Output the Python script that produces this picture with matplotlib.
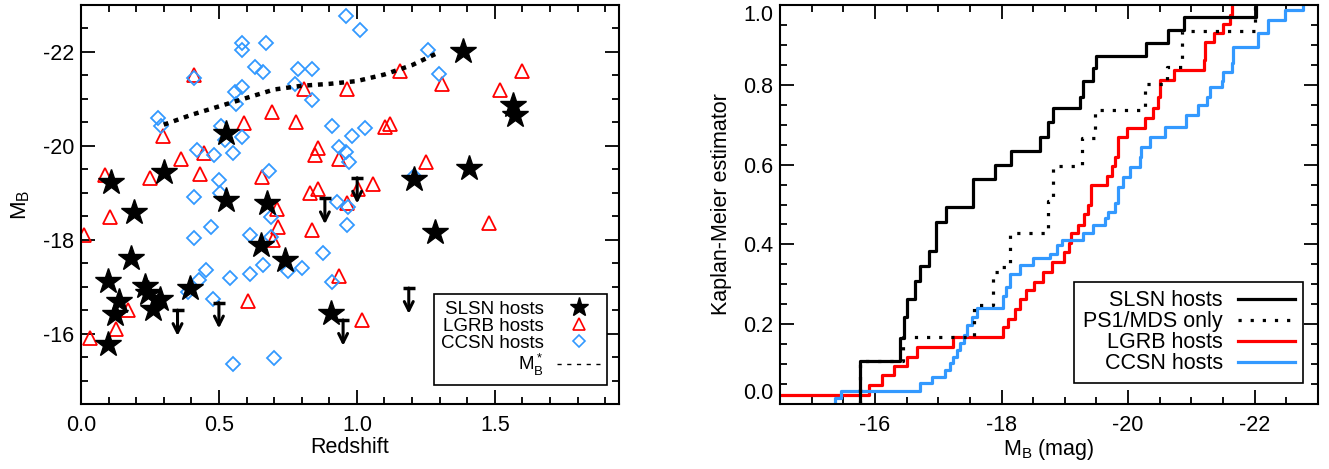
import matplotlib
matplotlib.use("Agg")
import matplotlib.pyplot as plt
from matplotlib.lines import Line2D
from matplotlib.ticker import MultipleLocator, FormatStrFormatter

plt.rcParams['font.family'] = ['Liberation Sans', 'DejaVu Sans']
plt.rcParams['mathtext.fontset'] = 'custom'
plt.rcParams['mathtext.rm'] = 'Liberation Sans'
plt.rcParams['axes.unicode_minus'] = False

# --- left panel: host absolute magnitude vs redshift ---
slsn_z = [0.109, 0.193, 0.302, 0.524, 0.524, 0.673, 1.385, 1.566, 1.572, 1.406, 1.207, 1.283,
          0.099, 0.181, 0.139, 0.123, 0.099, 0.232, 0.244, 0.286, 0.260, 0.395, 0.652, 0.739, 0.905]
slsn_mb = [-19.23, -18.60, -19.45, -20.28, -18.85, -18.78, -22.03, -20.86, -20.65, -19.52, -19.29, -18.17,
           -17.13, -17.60, -16.69, -16.41, -15.77, -17.01, -16.87, -16.73, -16.53, -16.97, -17.89, -17.57, -16.44]

lgrb_z = [0.012, 0.033, 0.087, 0.105, 0.127, 0.171, 0.249, 0.296, 0.362, 0.411, 0.430, 0.447, 0.592, 0.606,
          0.655, 0.691, 0.697, 0.711, 0.715, 0.779, 0.807, 0.829, 0.836, 0.848, 0.859, 0.859, 0.936, 0.936,
          0.963, 0.965, 1.005, 1.019, 1.059, 1.101, 1.120, 1.158, 1.252, 1.310, 1.479, 1.518, 1.600]
lgrb_mb = [-18.10, -15.91, -19.38, -18.49, -16.10, -16.50, -19.31, -20.22, -19.73, -21.50, -19.41, -19.85, -20.49, -16.69,
           -19.34, -20.72, -18.00, -18.65, -18.27, -20.51, -21.22, -19.00, -18.21, -19.80, -19.96, -19.07, -19.73, -17.22,
           -18.78, -21.22, -19.09, -16.30, -19.18, -20.40, -20.46, -21.59, -19.65, -21.32, -18.35, -21.19, -21.60]

ccsn_z = [0.278, 0.290, 0.389, 0.411, 0.411, 0.411, 0.419, 0.429, 0.455, 0.470, 0.479, 0.483, 0.500, 0.503,
          0.506, 0.522, 0.540, 0.552, 0.552, 0.558, 0.561, 0.582, 0.582, 0.582, 0.584, 0.611, 0.612, 0.630,
          0.661, 0.661, 0.669, 0.682, 0.690, 0.690, 0.699, 0.751, 0.774, 0.787, 0.800, 0.839, 0.839, 0.878,
          0.908, 0.911, 0.929, 0.936, 0.960, 0.962, 0.963, 0.969, 0.972, 0.981, 1.011, 1.029, 1.207, 1.258, 1.298]
ccsn_mb = [-20.60, -20.42, -16.88, -21.45, -18.90, -18.03, -19.91, -17.15, -17.36, -18.27, -16.74, -19.80, -19.27, -18.99,
           -20.42, -20.12, -17.19, -19.84, -15.36, -21.14, -20.90, -22.20, -22.04, -21.26, -20.19, -18.10, -17.28, -21.67,
           -21.57, -17.47, -22.20, -19.47, -18.48, -18.06, -15.47, -17.33, -21.32, -21.64, -17.40, -21.64, -20.97, -17.72,
           -17.09, -20.42, -18.81, -19.98, -22.77, -19.87, -18.31, -18.70, -19.66, -20.22, -22.47, -20.37, -19.35, -22.04, -21.52]

# SLSN hosts with upper limits
ul_z = [0.350, 0.500, 0.884, 0.950, 1.001, 1.188]
ul_mb = [-16.50, -16.66, -18.88, -16.29, -19.32, -16.97]

# characteristic magnitude M*_B
mstar_z = [0.30, 0.40, 0.50, 0.60, 0.70, 0.80, 0.90, 1.00, 1.10, 1.20, 1.30]
mstar_mb = [-20.45, -20.66, -20.84, -21.02, -21.20, -21.28, -21.32, -21.38, -21.52, -21.72, -22.00]

# --- right panel: Kaplan-Meier curves (step after each magnitude) ---
km_slsn_mag = [-15.77, -15.77, -16.40, -16.46, -16.50, -16.64, -16.72, -16.85, -16.96, -17.13, -17.55, -17.89,
               -18.15, -18.61, -18.74, -18.82, -19.24, -19.28, -19.45, -19.49, -20.28, -20.63, -20.88, -22.02]
km_slsn_frac = [0.0, 0.108, 0.165, 0.219, 0.263, 0.308, 0.346, 0.384, 0.457, 0.493, 0.564, 0.600,
                0.634, 0.670, 0.707, 0.741, 0.770, 0.810, 0.841, 0.872, 0.904, 0.937, 0.970, 1.0]

km_ps1_mag = [-15.77, -15.77, -16.45, -17.57, -17.87, -18.00, -18.13, -18.74, -18.82, -19.27, -19.47,
              -20.27, -20.61, -20.85, -22.01]
km_ps1_frac = [0.0, 0.108, 0.169, 0.248, 0.330, 0.344, 0.428, 0.510, 0.597, 0.667, 0.737,
               0.802, 0.845, 0.935, 1.0]

km_lgrb_mag = [-14.0, -15.91, -16.11, -16.30, -16.50, -16.67, -17.24, -18.03, -18.10, -18.22, -18.30, -18.38,
               -18.51, -18.66, -18.79, -18.98, -19.06, -19.10, -19.21, -19.30, -19.37, -19.42, -19.66, -19.75,
               -19.79, -19.84, -19.98, -20.27, -20.40, -20.48, -20.51, -20.72, -21.20, -21.22, -21.35, -21.50,
               -21.61, -21.64]
km_lgrb_frac = [0.022, 0.047, 0.073, 0.095, 0.118, 0.144, 0.169, 0.194, 0.214, 0.238, 0.262, 0.286,
                0.307, 0.332, 0.357, 0.380, 0.404, 0.428, 0.449, 0.475, 0.500, 0.549, 0.572, 0.596,
                0.620, 0.670, 0.693, 0.716, 0.741, 0.770, 0.812, 0.837, 0.862, 0.908, 0.931, 0.952,
                0.975, 1.0]

km_ccsn_mag = [-15.37, -15.37, -15.47, -16.71, -16.90, -17.11, -17.19, -17.24, -17.30, -17.35, -17.40, -17.45,
               -17.53, -17.61, -18.02, -18.07, -18.13, -18.29, -18.50, -18.76, -18.87, -18.95, -19.29, -19.45,
               -19.63, -19.69, -19.79, -19.84, -19.92, -20.03, -20.19, -20.21, -20.34, -20.58, -20.92, -21.11,
               -21.24, -21.29, -21.48, -21.50, -21.64, -21.66, -22.06, -22.21, -22.48, -22.76]
km_ccsn_frac = [0.0, 0.014, 0.033, 0.052, 0.068, 0.085, 0.102, 0.118, 0.135, 0.152, 0.173, 0.198,
                0.219, 0.241, 0.270, 0.294, 0.327, 0.348, 0.365, 0.377, 0.398, 0.411, 0.428, 0.448,
                0.465, 0.482, 0.503, 0.545, 0.568, 0.595, 0.620, 0.645, 0.670, 0.695, 0.724, 0.750,
                0.770, 0.795, 0.810, 0.833, 0.855, 0.895, 0.929, 0.962, 0.987, 1.0]

km_ticks = [0.0, 0.2, 0.4, 0.6, 0.8, 1.0]

RED = '#ff0000'
BLUE = '#3399ff'
ARROW_LEN = 0.55

fig = plt.figure(figsize=(13.29, 4.69), dpi=100)
ax1 = fig.add_axes([0.0609, 0.1386, 0.4049, 0.8507])
ax2 = fig.add_axes([0.5869, 0.1386, 0.4048, 0.8507])


def style_axes(ax):
    for sp in ax.spines.values():
        sp.set_linewidth(1.5)
    ax.tick_params(which='both', direction='in', top=True, right=True, width=1.3,
                   labelsize=15.5)
    ax.tick_params(which='major', length=10)
    ax.tick_params(which='minor', length=5)
    ax.tick_params(axis='x', pad=8)
    ax.tick_params(axis='y', pad=5)


# left panel
ax1.plot(lgrb_z, lgrb_mb, ls='none', marker='^', ms=10, mfc='none', mec=RED, mew=1.3)
ax1.plot(ccsn_z, ccsn_mb, ls='none', marker='D', ms=6.8, mfc='none', mec=BLUE, mew=1.3)
ax1.plot(mstar_z, mstar_mb, color='k', lw=3.2, ls=(0, (1.1, 1.3)))
ax1.plot(slsn_z, slsn_mb, ls='none', marker='*', ms=19, color='k', zorder=4)
ax1.plot(ul_z, ul_mb, ls='none', marker='_', ms=8, mew=2.5, color='k')
for z, m in zip(ul_z, ul_mb):
    ax1.annotate('', xy=(z, m + ARROW_LEN), xytext=(z, m),
                 arrowprops=dict(arrowstyle='->', lw=2.2, color='k', shrinkA=0, shrinkB=0,
                                 mutation_scale=16))

ax1.set_xlim(0, 1.95)
ax1.set_ylim(-14.5, -23)
ax1.xaxis.set_major_locator(MultipleLocator(0.5))
ax1.xaxis.set_minor_locator(MultipleLocator(0.1))
ax1.yaxis.set_major_locator(MultipleLocator(2))
ax1.yaxis.set_minor_locator(MultipleLocator(0.5))
ax1.xaxis.set_major_formatter(FormatStrFormatter('%.1f'))
ax1.yaxis.set_major_formatter(FormatStrFormatter('%d'))
style_axes(ax1)
ax1.set_xlabel('Redshift', fontsize=15.5, labelpad=1)
ax1.set_ylabel(r'M$_\mathrm{B}$', fontsize=16, labelpad=8)

h1 = [Line2D([], [], ls='none', marker='*', ms=14, color='k'),
      Line2D([], [], ls='none', marker='^', ms=9, mfc='none', mec=RED, mew=1.2),
      Line2D([], [], ls='none', marker='D', ms=6, mfc='none', mec=BLUE, mew=1.2),
      Line2D([], [], color='k', lw=1, ls=(0, (3, 4)))]
leg1 = ax1.legend(h1, ['SLSN hosts', 'LGRB hosts', 'CCSN hosts', r'M$^*_\mathrm{B}$'],
                  loc='lower right', bbox_to_anchor=(0.977, 0.048), borderaxespad=0,
                  markerfirst=False, fontsize=13.5, labelspacing=0.0, handlelength=2.3,
                  handletextpad=0.7, fancybox=False, framealpha=1, edgecolor='k', borderpad=0.35)
leg1.get_frame().set_linewidth(1.2)

# right panel
ax2.step(km_lgrb_mag, km_lgrb_frac, where='post', color=RED, lw=2.3)
ax2.step(km_ccsn_mag, km_ccsn_frac, where='post', color=BLUE, lw=2.3)
ax2.step(km_slsn_mag, km_slsn_frac, where='post', color='k', lw=2.3)
ax2.step(km_ps1_mag, km_ps1_frac, where='post', color='k', lw=2.3, ls=(0, (1, 2.8)))

ax2.set_xlim(-14.5, -23)
ax2.set_ylim(0, 1.0)
ax2.xaxis.set_major_locator(MultipleLocator(2))
ax2.xaxis.set_minor_locator(MultipleLocator(0.5))
ax2.set_yticks(km_ticks)
ax2.yaxis.set_minor_locator(MultipleLocator(0.05))
ax2.xaxis.set_major_formatter(FormatStrFormatter('%d'))
ax2.yaxis.set_major_formatter(FormatStrFormatter('%.1f'))
style_axes(ax2)
# end labels sit inside the axis range, as in the original
yt = ax2.yaxis.get_major_ticks()
yt[0].label1.set_verticalalignment('bottom')
yt[-1].label1.set_verticalalignment('top')
ax2.set_xlabel(r'M$_\mathrm{B}$ (mag)', fontsize=15.5, labelpad=1)
ax2.set_ylabel('Kaplan-Meier estimator', fontsize=15.5, labelpad=8)

h2 = [Line2D([], [], color='k', lw=2.3),
      Line2D([], [], color='k', lw=2.3, ls=(0, (1, 2.8))),
      Line2D([], [], color=RED, lw=2.3),
      Line2D([], [], color=BLUE, lw=2.3)]
leg2 = ax2.legend(h2, ['SLSN hosts', 'PS1/MDS only', 'LGRB hosts', 'CCSN hosts'],
                  loc='lower right', bbox_to_anchor=(0.973, 0.053), borderaxespad=0,
                  markerfirst=False, fontsize=15.5, labelspacing=0.0, handlelength=2.65,
                  handletextpad=0.7, fancybox=False, framealpha=1, edgecolor='k', borderpad=0.4)
leg2.get_frame().set_linewidth(1.2)

fig.savefig('out.png', dpi=100)
